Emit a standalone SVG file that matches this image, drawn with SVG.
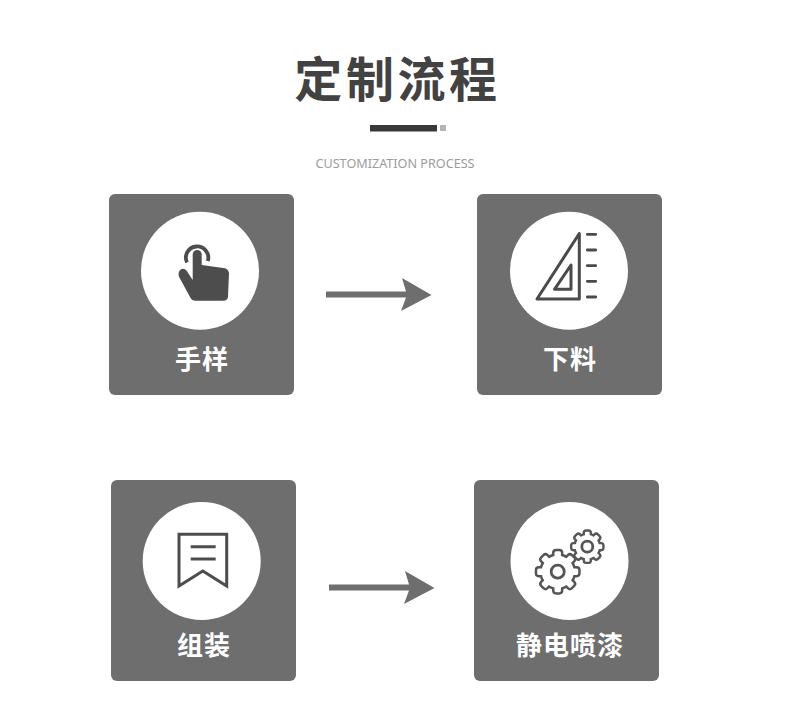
<svg xmlns="http://www.w3.org/2000/svg" width="790" height="723" viewBox="0 0 790 723">
<style>
.card{fill:#6e6e6e}
.disc{fill:#fff}
.label{font-family:"Noto Sans CJK SC","Liberation Sans",sans-serif;font-weight:700;font-size:26px;fill:#fff;text-anchor:middle;letter-spacing:1px}
.line{fill:none;stroke:#4a4a4a;stroke-width:3}
.arrow{fill:#6e6e6e}
</style>
<defs>
<g id="gear">
<circle r="16"/>
<rect x="-3.2" y="-20.500" width="6.4" height="9" rx="1.6"/>
<rect x="-3.2" y="-20.500" width="6.4" height="9" rx="1.6" transform="rotate(45)"/>
<rect x="-3.2" y="-20.500" width="6.4" height="9" rx="1.6" transform="rotate(90)"/>
<rect x="-3.2" y="-20.500" width="6.4" height="9" rx="1.6" transform="rotate(135)"/>
<rect x="-3.2" y="-20.500" width="6.4" height="9" rx="1.6" transform="rotate(180)"/>
<rect x="-3.2" y="-20.500" width="6.4" height="9" rx="1.6" transform="rotate(225)"/>
<rect x="-3.2" y="-20.500" width="6.4" height="9" rx="1.6" transform="rotate(270)"/>
<rect x="-3.2" y="-20.500" width="6.4" height="9" rx="1.6" transform="rotate(315)"/>
</g>
</defs>
<rect width="790" height="723" fill="#fff"/>
<g id="header">
<text x="397.500" y="97" font-family="'Noto Sans CJK SC','Liberation Sans',sans-serif" font-weight="700" font-size="48" letter-spacing="3.600" fill="#424242" text-anchor="middle">定制流程</text>
<rect x="370" y="125" width="67" height="6.5" fill="#383838"/>
<rect x="440" y="125" width="6" height="6" fill="#b4b4b4"/>
<text x="395" y="167.500" font-family="'Noto Sans','Liberation Sans',sans-serif" font-size="12" fill="#9c9c9c" text-anchor="middle" textLength="159" lengthAdjust="spacingAndGlyphs">CUSTOMIZATION PROCESS</text>
</g>
<g id="connectors">
<path class="arrow" d="M326 291.500H406L402 278L431.500 295L401 311L406 297.500H326Z"/>
<path class="arrow" d="M329 584.500H409L405 571L434.500 588L404 604L409 590.500H329Z"/>
</g>
<g id="node-shouyang">
<rect class="card" x="109" y="194" width="185" height="201" rx="6"/>
<circle class="disc" cx="200" cy="270.700" r="59"/>
<path d="M187 262.500A11.200 11.200 0 1 1 207.800 261" fill="none" stroke="#4d4d4d" stroke-width="3.800"/>
<path fill="#4d4d4d" d="M192.700 254.500A4.500 4.500 0 0 1 201.700 254.500V265L225 268.300Q228.500 269.500 229 273.300L228 296.700Q227.500 300.700 223.300 300.700H195Q192 300.700 190.700 298.300L179 276.700Q177.500 271 181.700 269Q184.500 268 186.500 270.500L192.700 280Z"/>
<text class="label" x="202" y="369">手样</text>
</g>
<g id="node-xialiao">
<rect class="card" x="477" y="194" width="185" height="201" rx="6"/>
<circle class="disc" cx="569" cy="270.700" r="59"/>
<path class="line" stroke-linejoin="round" d="M579.300 233.500V299H537Z"/>
<path class="line" stroke-linejoin="round" d="M571 265V289.300H554.500Z"/>
<path d="M587.300 234.300H595.700M587.300 250H595.700M587.300 265.700H595.700M587.300 281.300H595.700M587.300 297H595.700" fill="none" stroke="#4a4a4a" stroke-width="2.800" stroke-linecap="round"/>
<text class="label" x="570" y="369">下料</text>
</g>
<g id="node-zuzhuang">
<rect class="card" x="111" y="480" width="185" height="201" rx="6"/>
<circle class="disc" cx="201.700" cy="561" r="59"/>
<path d="M179 534.300H226.700V586L202.800 571L179 586Z" fill="none" stroke="#4d4d4d" stroke-width="3"/>
<path d="M190.700 546.700H215.700M190.700 559H215.700" fill="none" stroke="#4d4d4d" stroke-width="3"/>
<text class="label" x="204" y="655">组装</text>
</g>
<g id="node-jingdianpenqi">
<rect class="card" x="474" y="480" width="185" height="201" rx="6"/>
<circle class="disc" cx="569.500" cy="561" r="59"/>
<g stroke="#555" stroke-linejoin="round">
<use href="#gear" transform="translate(557.700 571.700)" fill="#555" stroke-width="5"/>
<use href="#gear" transform="translate(557.700 571.700)" fill="#fff" stroke="none"/>
<use href="#gear" transform="translate(587.300 546.700) scale(.73)" fill="#555" stroke-width="6.500"/>
<use href="#gear" transform="translate(587.300 546.700) scale(.73)" fill="#fff" stroke="none"/>
</g>
<circle cx="557.700" cy="571.700" r="6.500" fill="none" stroke="#555" stroke-width="2.800"/>
<circle cx="587.300" cy="546.700" r="5.500" fill="none" stroke="#555" stroke-width="2.800"/>
<text class="label" x="570" y="655">静电喷漆</text>
</g>
</svg>
